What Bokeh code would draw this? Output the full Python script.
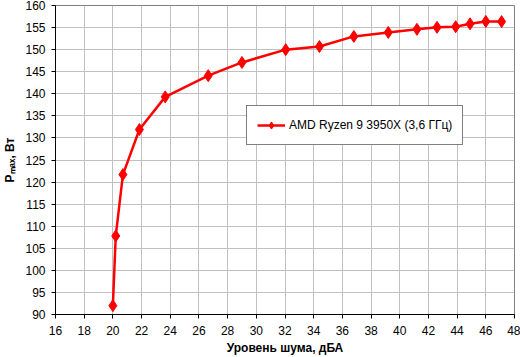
from bokeh.plotting import figure
from bokeh.models import Range1d, FixedTicker, Legend, LegendItem
from bokeh.embed import file_html
from bokeh.resources import INLINE

# Data
noise_dba = [20.0, 20.2, 20.7, 21.85, 23.65, 26.65, 29.0, 32.05, 34.4, 36.8,
             39.2, 41.2, 42.6, 43.9, 44.9, 46.0, 47.1]
pmax_w = [92.0, 107.8, 121.7, 131.9, 139.3, 144.1, 147.1, 150.0, 150.7, 153.0,
          153.9, 154.6, 155.05, 155.2, 155.85, 156.4, 156.35]
series_name = "AMD Ryzen 9 3950X (3,6 ГГц)"
x_ticks = list(range(16, 49, 2))
y_ticks = list(range(90, 161, 5))
x_title = "Уровень шума, дБА"
y_title = "Pₘₐₓ, Вт"

W, H = 520, 357
BL, BR, BT, BB = 53, 6, 5, 43
FONT = "Liberation Sans"

p = figure(width=W, height=H, output_backend="svg", toolbar_location=None,
           x_range=Range1d(16, 48), y_range=Range1d(90, 160),
           min_border_left=BL, min_border_right=BR, min_border_top=BT, min_border_bottom=BB)
p.background_fill_color = "white"
p.border_fill_color = "white"
p.outline_line_color = "#808080"
p.outline_line_width = 1

for ax in (p.xaxis[0], p.yaxis[0]):
    ax.axis_line_color = "black"
    ax.axis_line_width = 1
    ax.major_tick_line_color = "black"
    ax.major_tick_out = 4
    ax.major_tick_in = 0
    ax.minor_tick_line_color = None
    ax.major_label_text_font = FONT
    ax.major_label_text_font_size = "12px"
    ax.major_label_text_color = "black"
    ax.axis_label_text_font = FONT
    ax.axis_label_text_font_size = "12px"
    ax.axis_label_text_font_style = "bold"
    ax.axis_label_text_color = "black"

p.xaxis.ticker = FixedTicker(ticks=x_ticks)
p.yaxis.ticker = FixedTicker(ticks=y_ticks)
p.xaxis.major_label_standoff = 7
p.yaxis.major_label_standoff = 6
p.xaxis.axis_label = x_title
p.xaxis.axis_label_standoff = 3
p.yaxis.axis_label = y_title
p.yaxis.axis_label_standoff = 5

p.grid.grid_line_color = "#c0c0c0"
p.grid.grid_line_width = 1
p.xgrid.ticker = FixedTicker(ticks=x_ticks)
p.ygrid.ticker = FixedTicker(ticks=y_ticks)

ln = p.line(noise_dba, pmax_w, line_color="#ff0000", line_width=2.5)
mk = p.scatter(noise_dba, pmax_w, marker="diamond", size=12,
               fill_color="#ff0000", line_color="#ff0000")

legend = Legend(items=[LegendItem(label=series_name, renderers=[ln, mk])],
                location=(191, 169))
legend.border_line_color = "black"
legend.border_line_width = 1
legend.background_fill_color = "white"
legend.background_fill_alpha = 1
legend.label_text_font = FONT
legend.label_text_font_size = "12px"
legend.label_text_color = "black"
legend.glyph_width = 28
legend.label_standoff = 4
legend.padding = 10
legend.margin = 0
legend.label_height = 18
legend.glyph_height = 18
p.add_layout(legend, "center")

open("out.html", "w").write(file_html(p, INLINE))
